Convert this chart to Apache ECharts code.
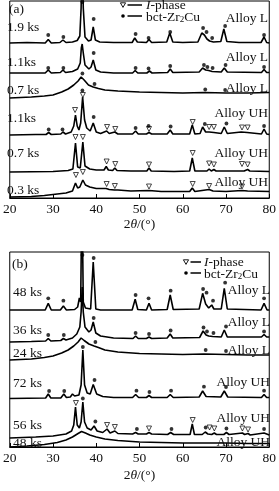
<!DOCTYPE html>
<html><head><meta charset="utf-8">
<script src="https://cdn.jsdelivr.net/npm/echarts@6/dist/echarts.min.js"></script>
<style>html,body{margin:0;padding:0;background:#fff}#c{width:279px;height:491px}</style>
</head><body><div id="c"></div><script>
// x axis: 2theta (deg); y: relative intensity (a.u.)
const xMin = 20, xMax = 80, xStep = 10;

// ---- Panel (a) ----
const a_L19 = [[20,155],[24,155.5],[28.2,155],[28.9,158.5],[29.6,155],[31.6,155.5],[32.3,158],[33,155.5],[34.5,156],[35.6,157.5],[36.2,162],[36.5,190],[36.75,250],[37.0,190],[37.4,161],[38.2,157],[38.8,158],[39.3,171],[39.8,158],[40.8,156],[44,155.5],[48.3,155.5],[48.9,160],[49.5,156],[51.6,155.5],[52.2,158.5],[52.8,155.5],[56.3,156],[57.0,165],[57.7,156],[60,155.5],[63.5,156],[64.4,165],[65.0,163],[65.6,159],[66.2,157],[66.6,159],[67.1,156],[68.8,156.5],[69.5,169],[70.2,156.5],[73,155.5],[78.1,155.5],[78.8,161],[79.4,155.5],[80,155]];
const a_L19_dot = [[28.9,163],[32.4,161],[36.8,196],[39.4,179],[49.1,164],[52.1,160],[57.1,166],[64.7,170],[65.5,166],[66.8,160],[69.8,172],[78.8,163]];

const a_L11 = [[20,125],[28.2,125],[28.9,128],[29.6,125],[31.7,125.5],[32.3,128],[32.9,125.5],[34.5,126.5],[35.7,129],[36.3,135],[36.55,150],[36.75,154],[37.0,145],[37.4,133],[38.3,129],[38.8,131],[39.3,138],[39.9,128],[41,126],[44,125],[48.4,125],[49,127.5],[49.6,125],[51.7,125],[52.3,127],[52.9,125],[56.5,125.5],[57.1,129],[57.7,125.5],[63.8,126],[64.6,130],[65.3,128],[66,127.5],[66.8,126.5],[68.9,126],[69.6,130],[70.3,126],[78.2,125.5],[78.8,128.5],[79.4,125.5],[80,125.5]];
const a_L11_dot = [[28.9,130],[32.4,130],[39.4,145],[49.1,130],[52.1,129.5],[57.1,132],[64.9,133],[65.7,131],[66.9,130],[69.9,133],[78.8,131]];

const a_L07 = [[20,100],[25,101],[28,102],[30,103],[32,106],[33.5,109],[34.8,113],[35.8,117],[36.5,121],[37.2,118],[38.2,113],[39.3,111],[40.5,109.5],[42,108],[45,107],[50,106],[55,105.5],[60,105],[65,105.5],[70,105],[75,105],[80,105.5]];
const a_L07_dot = [[36.8,124.5],[39.6,114],[65.2,108.5],[69.8,108]];

const a_UH11 = [[20,63],[26,63.5],[28.4,63.5],[29,65.5],[29.6,63.5],[31.8,64],[32.3,66],[32.9,64],[34.2,66],[34.8,72],[35.2,83],[35.6,72],[36.0,68],[36.4,75],[36.85,101],[37.3,78],[37.8,70],[38.6,67],[39.3,75],[40,66],[41,64.5],[42.4,67],[43,64.5],[44.3,66],[45,64],[48.4,64],[49.1,67],[49.7,64],[51.6,64],[52.2,65.5],[52.8,64],[56.4,64],[57.1,68],[57.7,64],[61.6,64],[62.2,73],[62.8,64],[64,64.5],[64.6,71],[65.3,66],[66.1,66],[67.2,65.5],[68.9,64.5],[69.6,71],[70.3,64.5],[73.5,66],[74.9,65.5],[78.2,64],[78.8,69],[79.4,64],[80,63.5]];
const a_UH11_tri = [[35.1,88],[36.9,103],[42.5,71],[44.4,69],[52.2,69],[62.3,76],[66.1,71],[67.2,71],[73.7,70.5],[75.0,70.5]];
const a_UH11_dot = [[29,68.5],[32.2,68.5],[36.8,107.5],[39.4,81],[49.1,70],[52.1,72],[57.2,71.5],[65.1,74],[70.1,74.5],[78.8,72]];

const a_UH07 = [[20,26],[30,26.5],[33.5,27.5],[34.6,29],[35.2,55],[35.7,31],[36.3,30],[36.9,56],[37.4,32],[38.5,29],[40,28],[41.8,28],[42.3,31.5],[42.8,28],[43.8,27.5],[44.3,30],[44.8,27.5],[48,27],[51.7,27],[52.2,30],[52.7,27],[58,26.5],[61.6,27],[62.2,40],[62.8,27],[65.6,27],[66.1,29],[66.6,27],[67.2,28.5],[67.7,27],[73.3,27],[73.7,29],[74.2,27],[75,28.5],[75.5,27],[80,26.5]];
const a_UH07_tri = [[35.2,61],[36.9,61],[42.4,36.5],[44.4,34],[52.2,33.5],[62.3,45],[66.1,34.5],[67.2,33.5],[73.7,34],[75.0,33.5]];

const a_UH03 = [[20,1],[25,1.5],[28,2.5],[31,4],[33,5],[34.5,7],[35.2,15],[35.7,10],[36.2,11],[36.9,18],[37.5,13],[38.5,11],[40,9.5],[42.3,9.5],[43,8.5],[44.2,8],[45,8],[48,7],[52.2,7.5],[55,6.5],[60,6.5],[61.6,6.5],[62.2,10],[62.8,6.5],[66.1,8.5],[67,7],[70,6.5],[73.7,7.5],[75,7],[80,6.5]];
const a_UH03_tri = [[35.3,23],[36.9,26],[42.4,14],[44.3,12],[52.2,11.5],[62.3,14],[66.1,12],[73.7,11.5]];

// ---- Panel (b) ----
const b_L48 = [[20,137],[28.2,137],[28.9,143.7],[29.6,137],[31.7,137],[32.4,141],[33.1,137],[35,137.5],[35.7,140],[36.1,149],[36.4,145],[36.7,260],[37.0,145],[37.5,139],[38.7,138],[39.3,185],[39.9,138],[41,137],[48.3,137],[49,147.7],[49.6,137.5],[51.6,137],[52.2,143.7],[52.8,137],[56.4,137.5],[57.1,152],[57.8,137.5],[63.8,138],[64.6,153.7],[65.3,143],[66,139],[66.7,142],[67.2,138],[68.9,138],[69.6,158.7],[70.3,138],[78.1,137],[78.8,143.7],[79.5,137],[80,137]];
const b_L48_dot = [[28.9,148.7],[32.4,146.3],[36.8,192],[39.4,189],[49.1,152],[52.1,148.7],[57.2,156.3],[64.7,158],[65.5,154.3],[67.0,146.3],[69.8,164.3],[78.8,148.7]];

const b_L36 = [[20,105],[25,105.5],[28.3,106],[28.9,108.5],[29.5,106],[31.8,106.5],[32.4,108.5],[33,107],[34.5,109],[35.5,113],[36.2,120],[36.5,135],[36.75,160],[37.0,135],[37.4,120],[38.3,115],[38.8,117],[39.3,125],[39.9,114],[41,111],[44,109],[48.5,108.5],[49.1,111],[49.7,108.5],[51.6,108.5],[52.2,110],[52.8,108.5],[56.4,109],[57.1,113],[57.7,109],[63.9,109.5],[64.7,116],[65.4,112],[66,111],[66.9,110.5],[68.9,110],[69.6,117],[70.3,110],[78.2,110],[78.8,112.5],[79.4,110],[80,110]];
const b_L36_dot = [[28.9,112],[32.5,112],[39.4,129],[49.1,114],[52.2,113],[57.2,116.5],[64.8,119.5],[65.6,115.5],[67.1,114],[70.0,120.5],[78.8,115.5]];

const b_L24 = [[20,87],[25,88],[28,89.5],[30,91],[32,94],[33.5,97],[34.8,101],[35.8,105],[36.5,109],[37.2,106.5],[38.3,103],[39.5,101],[40.5,99.5],[42,97],[45,95],[50,93.5],[55,93],[60,92.5],[65,93],[70,92.5],[75,92],[80,92]];
const b_L24_dot = [[39.8,105],[65.3,97],[70.0,96]];

const b_UH72 = [[20,48.5],[28.3,49],[28.9,53],[29.5,49],[31.8,49],[32.5,53],[33.1,49.5],[34,50],[34.5,53],[35,51],[36.0,52],[36.5,62],[36.9,97],[37.3,62],[37.9,54],[38.6,53],[39.3,62.5],[40.1,53],[41.5,50.5],[44,49.5],[48.4,49.5],[49.1,52.5],[49.8,49.5],[51.6,49.5],[52.2,51.5],[52.8,49.5],[56.4,49.5],[57.1,52.5],[57.8,49.5],[63.8,50],[64.6,56],[65.4,50.5],[68.8,50],[69.6,56],[70.4,50],[78.2,49.5],[78.8,52.5],[79.4,49.5],[80,49.5]];
const b_UH72_dot = [[29.1,56],[32.6,56],[36.9,100],[39.6,67],[49.3,56.3],[52.3,55],[57.3,56.3],[64.9,60.3],[70.0,60],[78.8,56.3]];

const b_UH56 = [[20,9],[26,10],[30,11],[33,13],[34.3,16],[34.8,22],[35.2,40],[35.6,22],[36.1,19],[36.5,25],[36.9,45],[37.3,25],[37.9,19],[38.8,17],[39.5,21],[40.2,16],[41.5,14.5],[42.5,18],[43.2,14],[44.3,16],[45,13.5],[48.4,13],[49.1,14.5],[49.7,13],[51.6,13],[52.2,14.5],[52.8,13],[56.5,12.5],[57.2,14.5],[57.9,12.5],[61.7,12.5],[62.2,23],[62.7,12.5],[64.5,12.5],[65.2,15],[65.8,13],[66.2,14.5],[66.7,12.5],[67.3,14],[67.8,12.5],[69.5,12.5],[70.1,14.5],[70.7,12.5],[73.8,14],[74.3,12.5],[75.1,13.5],[75.6,12],[78.8,14],[80,12]];
const b_UH56_tri = [[35.3,44],[42.5,22],[44.3,20],[52.2,18.5],[62.3,27],[66.2,19.5],[67.3,18.5],[73.8,18.5],[75.1,17.5]];
const b_UH56_dot = [[36.9,48.5],[39.8,25.5],[49.4,18],[57.4,18],[65.3,19.5],[70.1,18.5],[78.8,18]];

const b_UH48 = [[20,0],[24,1],[28,2.5],[31,4.5],[33,7],[34.5,10],[35.8,13.5],[36.6,15.5],[37.5,14],[38.5,12],[40,10],[42,8],[45,6.5],[50,5],[55,4.5],[60,4],[65,4],[70,4],[75,3.5],[80,3.5]];

// labels
const a_times = ['1.9 ks','1.1ks','0.7 ks','1.1ks','0.7 ks','0.3 ks'];
const a_alloys = ['Alloy L','Alloy L','Alloy L','Alloy UH','Alloy UH','Alloy UH'];
const b_times = ['48 ks','36 ks','24 ks','72 ks','56 ks','48 ks'];
const b_alloys = ['Alloy L','Alloy L','Alloy L','Alloy UH','Alloy UH','Alloy UH'];

const FONT = '"Liberation Serif","DejaVu Serif",serif';
const FS = 13.5;
const chart = echarts.init(document.getElementById('c'), null, {renderer:'canvas'});

function lineS(data, gi){
  return {type:'line', xAxisIndex:gi, yAxisIndex:gi, data, showSymbol:false, symbol:'none',
    lineStyle:{color:'#000', width:1.6}, silent:true, clip:true, z:2};
}
function triS(data, gi){
  return {type:'scatter', xAxisIndex:gi, yAxisIndex:gi, data, symbol:'triangle', symbolRotate:180,
    symbolSize:[5,5], itemStyle:{color:'#fff', borderColor:'#000', borderWidth:0.9}, silent:true, z:4, clip:false};
}
function dotS(data, gi){
  return {type:'scatter', xAxisIndex:gi, yAxisIndex:gi, data, symbol:'circle',
    symbolSize:3.8, itemStyle:{color:'#000'}, silent:true, z:4, clip:false};
}
function xAx(gi, gap){
  return {gridIndex:gi, type:'value', min:xMin, max:xMax, interval:xStep,
    axisLine:{show:true, lineStyle:{color:'#000', width:1}},
    axisTick:{show:true, inside:true, length:4, lineStyle:{color:'#000'}},
    splitLine:{show:false},
    axisLabel:{fontFamily:FONT, fontSize:FS, color:'#111', margin:4},
    name:'2{i|θ}/(°)', nameLocation:'middle', nameGap:gap,
    nameTextStyle:{fontFamily:FONT, fontSize:FS, color:'#111', rich:{i:{fontFamily:FONT, fontSize:FS, fontStyle:'italic', color:'#111'}}}
  };
}
function yAx(gi, max){
  return {gridIndex:gi, type:'value', min:0, max, show:false};
}

function textEl(x, y, t, align){
  return {type:'text', x, y, style:{text:t, fontFamily:FONT, fontSize:FS, fill:'#111', align:align||'left', verticalAlign:'middle'}, z:10};
}
const gfx = [];
const aTY = [27,62,90,118,153,190], aAY = [18,57,88,113,153,182];
const bTY = [292,330,353,383,425,443], bAY = [290,322,350,382,418,442];
a_times.forEach((t,i)=>gfx.push(textEl(7, aTY[i], t)));
a_alloys.forEach((t,i)=>gfx.push(textEl(268, aAY[i], t, 'right')));
b_times.forEach((t,i)=>gfx.push(textEl(13, bTY[i], t)));
b_alloys.forEach((t,i)=>gfx.push(textEl(270, bAY[i], t, 'right')));
gfx.push(textEl(9, 9, '(a)'));
gfx.push(textEl(12, 264, '(b)'));

function legend(x0, y0, y1, lineEnd, tx){
  const r = {it:{fontFamily:FONT, fontSize:FS, fontStyle:'italic', fill:'#111'}, sub:{fontFamily:FONT, fontSize:9, fill:'#111', verticalAlign:'bottom', padding:[6,0,0,0]}};
  gfx.push({type:'polygon', shape:{points:[[x0-2.6,y0-2.2],[x0+2.6,y0-2.2],[x0,y0+2.4]]}, style:{fill:'#fff', stroke:'#000', lineWidth:0.9}, z:10});
  gfx.push({type:'line', shape:{x1:x0+4.5, y1:y0, x2:lineEnd, y2:y0}, style:{stroke:'#000', lineWidth:1.5}, z:10});
  gfx.push({type:'text', x:tx, y:y0, style:{text:'{it|I}-phase', rich:r, fontFamily:FONT, fontSize:FS, fill:'#111', verticalAlign:'middle'}, z:10});
  gfx.push({type:'circle', shape:{cx:x0, cy:y1, r:1.8}, style:{fill:'#000'}, z:10});
  gfx.push({type:'line', shape:{x1:x0+4.5, y1:y1, x2:lineEnd, y2:y1}, style:{stroke:'#000', lineWidth:1.5}, z:10});
  gfx.push({type:'text', x:tx, y:y1+1, style:{text:'bct-Zr{sub|2}Cu', rich:r, fontFamily:FONT, fontSize:FS, fill:'#111', verticalAlign:'middle'}, z:10});
}
legend(123, 5, 16, 142, 146);
legend(186, 262, 273, 201, 204);

const series = [
  lineS(a_L19,0), lineS(a_L11,0), lineS(a_L07,0), lineS(a_UH11,0), lineS(a_UH07,0), lineS(a_UH03,0),
  dotS(a_L19_dot,0), dotS(a_L11_dot,0), dotS(a_L07_dot,0), triS(a_UH11_tri,0), dotS(a_UH11_dot,0), triS(a_UH07_tri,0), triS(a_UH03_tri,0),
  lineS(b_L48,1), lineS(b_L36,1), lineS(b_L24,1), lineS(b_UH72,1), lineS(b_UH56,1), lineS(b_UH48,1),
  dotS(b_L48_dot,1), dotS(b_L36_dot,1), dotS(b_L24_dot,1), dotS(b_UH72_dot,1), triS(b_UH56_tri,1), dotS(b_UH56_dot,1)
];

chart.setOption({
  animation:false,
  backgroundColor:'#fff',
  grid:[
    {left:6, right:6, top:1, height:197, show:true, borderColor:'#000', borderWidth:1, containLabel:false},
    {left:6, right:6, top:252, height:195, show:true, borderColor:'#000', borderWidth:1, containLabel:false}
  ],
  xAxis:[xAx(0,19), xAx(1,21)],
  yAxis:[yAx(0,197), yAx(1,195)],
  series,
  graphic:gfx
});
</script></body></html>
